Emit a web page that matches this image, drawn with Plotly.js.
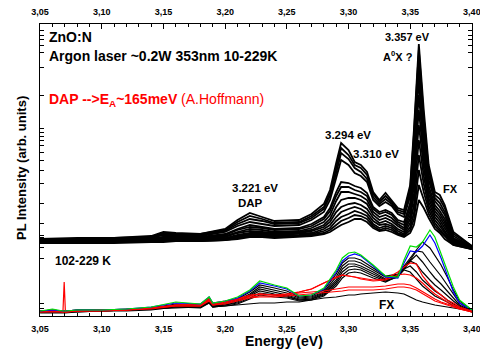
<!DOCTYPE html>
<html>
<head>
<meta charset="utf-8">
<script src="https://cdn.plot.ly/plotly-3.0.1.min.js"></script>
<style>html,body{margin:0;padding:0;background:#fff}#chart{width:480px;height:349px}</style>
</head>
<body>
<div id="chart"></div>
<script>
// ---- Data (photon energy in eV, PL intensity in arbitrary units) ----
const energyTop = [3.05,3.08,3.11,3.14,3.15,3.16,3.18,3.20,3.21,3.22,3.23,3.24,3.26,3.27,3.28,3.285,3.29,3.294,3.30,3.305,3.31,3.315,3.32,3.325,3.33,3.335,3.34,3.345,3.35,3.353,3.357,3.361,3.365,3.37,3.374,3.378,3.385,3.40];
// 10 K ... ~100 K spectra (upper group)
const top01 = [77,78,78,80,84,83,82,87,96,103,99,95,96,102,112,126,153,173,166,154,151,144,124,116,123,116,108,106,131,186,272,206,151,124,121,111,84,70];
const top02 = [77,77,78,79,83,82,82,86,94,100,97,93,94,100,109,123,148,168,161,151,148,141,122,114,120,114,106,104,128,181,266,198,146,121,117,108,82,70];
const top03 = [76,77,77,78,82,81,81,85,92,97,95,92,93,98,107,120,143,163,157,148,144,137,119,112,117,112,104,102,124,174,260,191,141,118,113,104,80,69];
const top04 = [76,76,77,78,81,80,80,84,90,94,92,90,91,96,104,116,138,156,151,143,140,134,116,110,114,110,102,99,120,166,250,181,136,115,109,101,78,69];
const top05 = [75,76,76,77,79,79,79,82,87,91,89,87,88,92,99,108,124,134,133,130,128,123,109,104,106,103,96,94,113,156,236,171,130,111,105,97,77,69];
const top06 = [75,75,76,77,79,78,78,81,86,89,88,86,87,90,97,105,120,129,129,126,124,120,107,102,104,101,94,91,109,148,221,164,126,108,102,94,76,68];
const top07 = [75,75,75,76,78,78,78,80,84,87,86,84,85,88,94,101,115,124,124,122,120,116,104,99,101,98,92,88,105,140,206,156,122,105,99,91,75,68];
const top08 = [74,75,75,76,77,77,77,79,83,85,84,83,84,86,91,97,109,116,118,118,116,112,101,96,98,95,90,86,101,131,191,148,118,102,96,88,74,68];
const top09 = [74,74,75,75,77,77,77,78,81,83,83,82,83,85,89,94,104,109,112,113,111,107,98,93,95,92,87,84,97,121,176,140,114,99,93,85,73,68];
const top10 = [74,74,74,75,76,76,76,77,80,82,82,81,82,83,87,91,99,104,107,109,107,103,95,91,92,90,85,82,93,111,161,132,110,96,90,83,73,67];
const top11 = [73,74,74,74,75,76,76,77,79,81,81,80,81,82,85,88,95,99,102,105,103,100,92,88,90,88,83,81,89,103,146,124,106,93,87,81,72,67];
const top12 = [73,73,74,74,75,75,75,76,78,80,80,79,80,81,83,86,91,95,98,101,100,97,90,86,88,86,82,80,86,97,131,116,102,90,85,79,71,67];
const top13 = [73,73,73,74,74,75,75,76,77,79,79,78,79,80,82,84,88,91,94,97,97,94,88,85,86,84,81,79,83,91,116,108,98,87,83,77,71,67];

const energyBottom = [3.05,3.06,3.0685,3.0695,3.0705,3.08,3.10,3.12,3.14,3.16,3.18,3.187,3.19,3.20,3.21,3.22,3.228,3.24,3.25,3.26,3.27,3.28,3.29,3.295,3.30,3.305,3.31,3.32,3.33,3.34,3.345,3.35,3.355,3.36,3.366,3.37,3.375,3.38,3.385,3.39,3.40];
// 102 K ... 229 K spectra (lower group)
const greenSpec = [5,7,5,5,5,6,6,7,9,14,12,19,13,15,19,26,35,31,28,20,21,28,46,58,63,64,61,51,40,39,56,70,69,74,86,79,63,46,29,16,6];
const blueSpec  = [5,6,5,5,5,6,6,7,9,13,12,19,13,15,18,25,33,30,27,20,21,27,44,55,60,62,60,50,39,38,53,65,64,70,81,73,58,41,24,13,6];
const black01 = [5,6,5,5,5,6,6,7,8,12,11,18,12,14,17,24,31,28,25,19,20,26,42,53,58,58,56,48,40,42,50,58,65,74,68,61,51,39,26,15,6];
const black02 = [5,5,5,5,5,6,6,6,8,11,10,17,11,13,16,22,29,26,23,18,19,24,39,50,55,55,53,46,39,41,48,56,65,64,54,48,40,31,22,13,5];
const black03 = [5,5,5,5,5,5,6,6,7,10,9,16,10,12,15,21,27,24,21,17,18,23,36,47,52,52,50,44,37,40,48,55,61,54,44,38,32,25,18,11,5];
const black04 = [4,5,4,4,4,5,5,6,7,10,9,15,10,11,14,20,25,22,20,16,17,22,34,44,49,50,48,42,36,39,47,55,52,44,36,31,26,20,15,10,4];
const black05 = [4,4,4,4,4,5,5,6,7,9,9,14,9,11,13,18,23,21,19,16,17,21,32,41,46,47,46,40,35,39,47,50,44,36,29,25,21,16,12,9,4];
const black06 = [4,4,4,4,4,4,5,5,6,9,8,13,9,10,12,17,21,19,18,15,16,20,30,38,43,44,43,38,34,40,46,44,37,30,24,20,17,14,10,8,4];
const red01 = [5,6,4,34,4,5,6,6,8,11,12,18,13,15,17,20,22,21,22,24,27,33,38,41,40,39,38,36,37,44,49,53,52,40,31,26,21,16,13,9,5];
const red02 = [5,5,5,5,5,5,6,6,8,11,11,17,12,14,17,21,22,21,22,24,27,33,39,41,40,39,37,35,36,41,42,41,38,33,26,22,18,14,11,8,5];
const red03 = [4,5,4,4,4,5,5,6,8,10,10,16,11,13,16,19,20,20,21,23,24,25,27,28,29,29,29,29,30,32,32,31,28,24,20,17,14,12,10,7,4];
const red04 = [4,4,4,4,4,5,5,6,7,10,10,15,11,12,15,18,19,19,20,21,22,23,24,25,26,26,26,26,27,29,29,28,26,22,18,15,13,11,9,7,4];
const black229K = [3,3,3,3,3,4,5,6,7,8,9,13,9,10,11,12,13,13,14,14,16,18,19,20,21,21,22,23,24,23,22,19,16,14,12,11,10,9,8,7,5];

const tickEnergies = [3.05,3.10,3.15,3.20,3.25,3.30,3.35,3.40];
const yTickValues = [286,281,277,271,264,249,221,188,184,180,176,171,164,156,146,133,113,93,81,79,69,58,13,8];

// ---- Traces ----
const traces = [];
[top13,top12,top11,top10,top09,top08,top07,top06,top05,top04,top03,top02,top01].forEach(s => {
  traces.push({x: energyTop, y: s, xaxis: 'x2', yaxis: 'y', type: 'scatter', mode: 'lines',
    line: {color: '#000', width: 1.8}, hoverinfo: 'skip', showlegend: false});
});
const bottomSet = [
  [black229K, '#000'],
  [black06, '#000'], [black05, '#000'], [black04, '#000'], [black03, '#000'], [black02, '#000'], [black01, '#000'],
  [red04, '#ff0000'], [red03, '#ff0000'], [red02, '#ff0000'], [red01, '#ff0000'],
  [blueSpec, '#0000ff'], [greenSpec, '#00e000']
];
bottomSet.forEach(([s, c]) => {
  traces.push({x: energyBottom, y: s, xaxis: 'x', yaxis: 'y', type: 'scatter', mode: 'lines',
    line: {color: c, width: 1.2}, hoverinfo: 'skip', showlegend: false});
});

const FONT = 'Liberation Sans, Arial, sans-serif';
function px2x(p) { return (p - 40) / 432; }
function px2y(p) { return (316 - p) / 292; }
function ann(text, xp, yp, size, anchor, color) {
  return {text: text, x: px2x(xp), y: px2y(yp), xref: 'paper', yref: 'paper', showarrow: false,
    xanchor: anchor || 'center', yanchor: 'middle',
    font: {family: FONT, size: size, color: color || '#000', weight: 'bold'}};
}

const axisCommon = {
  range: [3.0499, 3.4001], tickvals: tickEnergies, tickformat: '.2f', ticks: 'inside', ticklen: 5,
  ticklabelstandoff: 4, ticklabeloverflow: 'allow',
  tickcolor: '#000', showline: true, linecolor: '#000', linewidth: 1, showgrid: false, zeroline: false,
  tickfont: {family: FONT, size: 9, color: '#000', weight: 'bold'},
  minor: {dtick: 0.01, tick0: 3.05, ticks: 'inside', ticklen: 3, tickcolor: '#000', showgrid: false}
};

const layout = {
  width: 480, height: 349,
  margin: {l: 40, r: 8, t: 24, b: 33},
  paper_bgcolor: '#fff', plot_bgcolor: '#fff',
  separators: ',.',
  showlegend: false,
  xaxis: Object.assign({}, axisCommon, {side: 'bottom', anchor: 'y'}),
  xaxis2: Object.assign({}, axisCommon, {side: 'top', anchor: 'y', overlaying: 'x'}),
  yaxis: {range: [0, 292], tickvals: yTickValues, showticklabels: false, ticks: 'inside', ticklen: 4,
    tickcolor: '#000', showline: true, linecolor: '#000', linewidth: 1, mirror: 'ticks',
    showgrid: false, zeroline: false},
  annotations: [
    ann('ZnO:N', 47, 37, 14, 'left'),
    ann('Argon laser ~0.2W 353nm 10-229K', 47, 56, 14, 'left'),
    {text: '<b>DAP --&gt;E<sub>A</sub>~165meV</b> (A.Hoffmann)', x: px2x(47), y: px2y(100), xref: 'paper', yref: 'paper',
      showarrow: false, xanchor: 'left', yanchor: 'middle', font: {family: FONT, size: 14, color: '#ff0000'}},
    ann('3.357 eV', 407, 37, 11),
    ann('A<sup>0</sup>X ?', 398, 56, 11),
    ann('3.294 eV', 348, 135, 11.5),
    ann('3.310 eV', 376, 154, 11.5),
    ann('3.221 eV', 255, 188, 11.5),
    ann('DAP', 250, 203, 11.5),
    ann('FX', 450, 189, 11),
    ann('102-229 K', 53, 261, 12, 'left'),
    ann('FX', 386, 305, 12),
    {text: 'Energy (eV)', x: px2x(283.5), y: px2y(341), xref: 'paper', yref: 'paper', showarrow: false,
      xanchor: 'center', yanchor: 'middle', font: {family: FONT, size: 14, color: '#000', weight: 'bold'}},
    {text: 'PL Intensity (arb. units)', x: px2x(21), y: px2y(168), xref: 'paper', yref: 'paper', showarrow: false,
      textangle: -90, xanchor: 'center', yanchor: 'middle', font: {family: FONT, size: 13, color: '#000', weight: 'bold'}}
  ]
};

Plotly.newPlot('chart', traces, layout, {staticPlot: true, displayModeBar: false});
</script>
</body>
</html>
